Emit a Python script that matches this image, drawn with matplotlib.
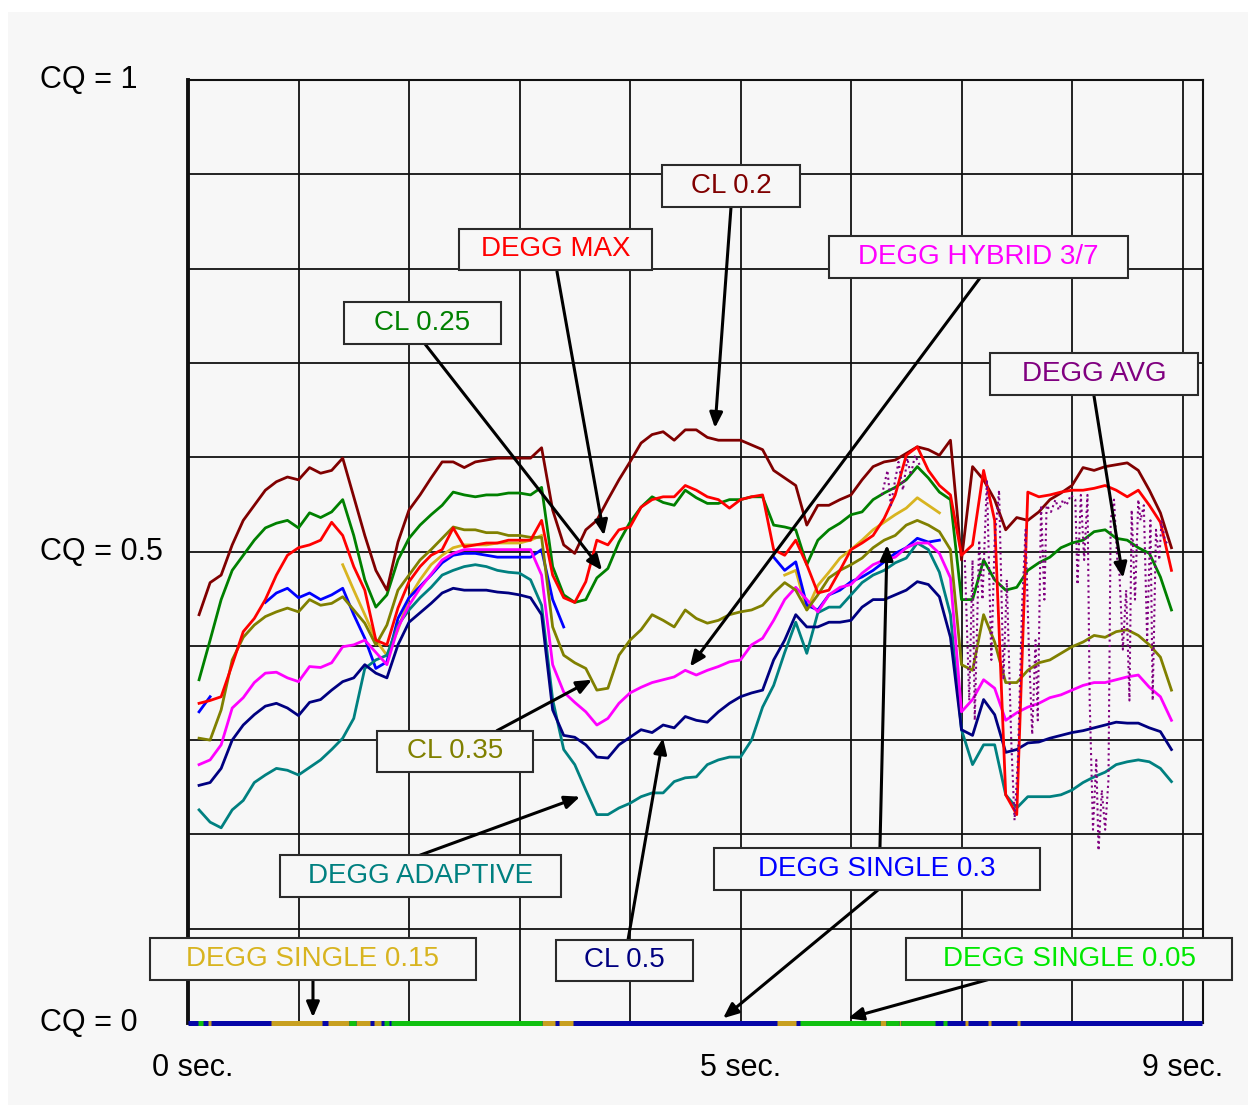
import numpy as np
import matplotlib
matplotlib.use("Agg")
import matplotlib.pyplot as plt
from matplotlib.patches import Rectangle
from matplotlib.transforms import blended_transform_factory

plt.rcParams['font.family'] = ['Liberation Sans', 'DejaVu Sans']

nan = np.nan

# common time base (seconds)
t = np.round(np.arange(1, 90) * 0.1, 2)

cl_02 = [0.433, 0.467, 0.475, 0.507, 0.533, 0.549, 0.565, 0.574, 0.579, 0.576,
         0.589, 0.583, 0.586, 0.599, 0.558, 0.517, 0.480, 0.459, 0.510, 0.544,
         0.560, 0.578, 0.595, 0.595, 0.589, 0.595, 0.597, 0.599, 0.599, 0.599,
         0.599, 0.610, 0.544, 0.507, 0.498, 0.523, 0.533, 0.555, 0.576, 0.595,
         0.615, 0.624, 0.627, 0.618, 0.629, 0.629, 0.621, 0.618, 0.618, 0.618,
         0.613, 0.608, 0.586, 0.578, 0.570, 0.528, 0.549, 0.549, 0.555, 0.560,
         0.576, 0.590, 0.595, 0.597, 0.604, 0.611, 0.608, 0.602, 0.618, 0.491,
         0.590, 0.576, 0.555, 0.523, 0.536, 0.533, 0.542, 0.555, 0.562, 0.570,
         0.589, 0.586, 0.590, 0.592, 0.594, 0.586, 0.565, 0.541, 0.504]

degg_max = [0.339, 0.342, 0.346, 0.380, 0.415, 0.429, 0.449, 0.475, 0.496, 0.504,
            0.507, 0.512, 0.531, 0.517, 0.484, 0.459, 0.406, 0.401, 0.440, 0.468,
            0.484, 0.496, 0.502, 0.525, 0.505, 0.507, 0.509, 0.509, 0.512, 0.512,
            0.512, 0.533, 0.475, 0.451, 0.446, 0.468, 0.512, 0.507, 0.523, 0.526,
            0.547, 0.555, 0.558, 0.558, 0.570, 0.565, 0.558, 0.555, 0.546, 0.555,
            0.558, 0.560, 0.502, 0.496, 0.512, 0.486, 0.456, 0.459, 0.480, 0.502,
            0.509, 0.517, 0.535, 0.560, 0.602, 0.611, 0.586, 0.570, 0.560, 0.496,
            0.507, 0.586, 0.533, 0.242, 0.221, 0.563, 0.558, 0.560, 0.563, 0.565,
            0.565, 0.567, 0.570, 0.565, 0.558, 0.565, 0.549, 0.531, 0.480]

cl_025 = [0.364, 0.406, 0.449, 0.480, 0.496, 0.512, 0.525, 0.530, 0.533, 0.525,
          0.541, 0.536, 0.542, 0.555, 0.517, 0.470, 0.441, 0.454, 0.491, 0.514,
          0.528, 0.539, 0.549, 0.563, 0.560, 0.558, 0.560, 0.560, 0.562, 0.562,
          0.560, 0.568, 0.484, 0.454, 0.446, 0.449, 0.472, 0.482, 0.510, 0.531,
          0.547, 0.558, 0.552, 0.549, 0.565, 0.557, 0.551, 0.551, 0.555, 0.555,
          0.558, 0.558, 0.528, 0.526, 0.523, 0.486, 0.512, 0.523, 0.530, 0.539,
          0.542, 0.555, 0.562, 0.568, 0.576, 0.590, 0.578, 0.563, 0.555, 0.449,
          0.449, 0.491, 0.470, 0.459, 0.462, 0.480, 0.488, 0.494, 0.504, 0.509,
          0.512, 0.521, 0.523, 0.514, 0.512, 0.504, 0.498, 0.473, 0.438]

degg_hybrid = [0.274, 0.279, 0.295, 0.334, 0.345, 0.361, 0.371, 0.372, 0.366, 0.362,
               0.378, 0.377, 0.382, 0.399, 0.401, 0.406, 0.393, 0.380, 0.419, 0.443,
               0.461, 0.476, 0.491, 0.498, 0.502, 0.502, 0.502, 0.502, 0.502, 0.502,
               0.502, 0.475, 0.380, 0.351, 0.340, 0.330, 0.316, 0.323, 0.339, 0.350,
               0.356, 0.361, 0.364, 0.367, 0.374, 0.369, 0.374, 0.378, 0.383, 0.385,
               0.401, 0.408, 0.427, 0.449, 0.462, 0.449, 0.436, 0.454, 0.462, 0.465,
               0.477, 0.486, 0.491, 0.494, 0.504, 0.509, 0.509, 0.498, 0.472, 0.330,
               0.343, 0.364, 0.355, 0.321, 0.329, 0.335, 0.339, 0.345, 0.348, 0.353,
               0.358, 0.361, 0.361, 0.364, 0.367, 0.369, 0.356, 0.346, 0.321]

cl_035 = [0.302, 0.300, 0.332, 0.385, 0.409, 0.422, 0.431, 0.436, 0.440, 0.436,
          0.449, 0.443, 0.445, 0.452, 0.438, 0.424, 0.401, 0.422, 0.459, 0.475,
          0.491, 0.502, 0.514, 0.526, 0.523, 0.523, 0.520, 0.520, 0.517, 0.517,
          0.515, 0.515, 0.420, 0.390, 0.382, 0.376, 0.353, 0.355, 0.390, 0.406,
          0.417, 0.433, 0.427, 0.420, 0.438, 0.429, 0.424, 0.427, 0.433, 0.436,
          0.438, 0.443, 0.456, 0.467, 0.459, 0.438, 0.454, 0.472, 0.480, 0.486,
          0.493, 0.504, 0.512, 0.517, 0.528, 0.533, 0.528, 0.521, 0.502, 0.380,
          0.374, 0.433, 0.404, 0.361, 0.361, 0.374, 0.382, 0.385, 0.392, 0.399,
          0.404, 0.411, 0.409, 0.415, 0.417, 0.411, 0.401, 0.388, 0.353]

degg_adaptive = [0.226, 0.213, 0.207, 0.226, 0.236, 0.255, 0.263, 0.270, 0.268, 0.263,
                 0.271, 0.279, 0.290, 0.302, 0.323, 0.376, 0.385, 0.390, 0.422, 0.438,
                 0.451, 0.462, 0.475, 0.480, 0.484, 0.486, 0.484, 0.480, 0.478, 0.477,
                 0.470, 0.443, 0.343, 0.290, 0.274, 0.247, 0.221, 0.221, 0.228, 0.233,
                 0.240, 0.244, 0.244, 0.256, 0.260, 0.261, 0.274, 0.279, 0.282, 0.282,
                 0.300, 0.335, 0.358, 0.393, 0.425, 0.392, 0.435, 0.441, 0.441, 0.454,
                 0.467, 0.475, 0.480, 0.488, 0.493, 0.509, 0.502, 0.478, 0.433, 0.311,
                 0.274, 0.295, 0.295, 0.242, 0.228, 0.240, 0.240, 0.240, 0.242, 0.247,
                 0.255, 0.261, 0.266, 0.274, 0.277, 0.279, 0.277, 0.270, 0.256]

cl_05 = [0.252, 0.255, 0.270, 0.300, 0.316, 0.327, 0.336, 0.339, 0.334, 0.326,
         0.340, 0.343, 0.353, 0.362, 0.366, 0.380, 0.371, 0.366, 0.401, 0.425,
         0.435, 0.445, 0.456, 0.461, 0.459, 0.459, 0.459, 0.457, 0.456, 0.454,
         0.451, 0.433, 0.332, 0.305, 0.303, 0.295, 0.282, 0.281, 0.295, 0.303,
         0.311, 0.308, 0.316, 0.313, 0.325, 0.321, 0.319, 0.330, 0.339, 0.346,
         0.350, 0.353, 0.385, 0.406, 0.433, 0.420, 0.420, 0.425, 0.425, 0.427,
         0.441, 0.449, 0.449, 0.454, 0.459, 0.468, 0.465, 0.452, 0.409, 0.311,
         0.305, 0.343, 0.327, 0.287, 0.290, 0.297, 0.298, 0.302, 0.305, 0.308,
         0.310, 0.313, 0.316, 0.319, 0.318, 0.318, 0.313, 0.309, 0.290]

degg_single_03 = [0.330, 0.346, nan, nan, nan, nan, 0.446, 0.456, 0.461, 0.451,
                  0.456, 0.449, 0.454, 0.461, 0.433, 0.408, 0.376, 0.383, 0.429, 0.451,
                  0.463, 0.475, 0.488, 0.496, 0.498, 0.498, 0.496, 0.494, 0.494, 0.494,
                  0.494, 0.502, 0.449, 0.420, nan, nan, nan, nan, nan, nan,
                  nan, nan, nan, nan, nan, nan, nan, nan, nan, nan,
                  nan, nan, 0.494, 0.480, 0.489, 0.443, 0.438, 0.454, 0.459, 0.468,
                  0.473, 0.480, 0.489, 0.498, 0.504, 0.514, 0.510, 0.512, nan, nan,
                  nan, nan, nan, nan, nan, nan, nan, nan, nan, nan,
                  nan, nan, nan, nan, nan, nan, nan, nan, nan]

degg_single_015 = [nan, nan, nan, nan, nan, nan, nan, nan, nan, nan,
                   nan, nan, nan, 0.486, 0.459, 0.433, 0.406, 0.390, 0.417, 0.451,
                   0.470, 0.486, 0.496, 0.504, 0.507, 0.507, 0.507, 0.509, 0.509, 0.509,
                   0.512, 0.517, nan, nan, nan, nan, nan, nan, nan, nan,
                   nan, nan, nan, nan, nan, nan, nan, nan, nan, nan,
                   nan, nan, nan, 0.475, 0.480, 0.438, 0.464, 0.478, 0.493, 0.502,
                   0.512, 0.523, 0.531, 0.539, 0.546, 0.557, 0.549, 0.541, nan, nan,
                   nan, nan, nan, nan, nan, nan, nan, nan, nan, nan,
                   nan, nan, nan, nan, nan, nan, nan, nan, nan]

# DEGG AVG is sampled on its own, denser time base
avg_t = [6.28, 6.33, 6.36, 6.40, 6.43, 6.47, 6.51, 6.54, 6.58, 6.62,
         nan,
         7.03, 7.07, 7.10, 7.12, 7.16, 7.19, 7.23, 7.27, 7.30, 7.34,
         7.38, 7.41, 7.45, 7.48, 7.51, 7.55, 7.58, 7.61, 7.64, 7.67,
         7.69, 7.72, 7.75, 7.77, 7.81, 7.85, 7.88, 7.92, 7.95, 7.99,
         8.03, 8.05, 8.08, 8.11, 8.14, 8.16, 8.19, 8.22, 8.24, 8.27,
         8.30, 8.33, 8.35, 8.38, 8.41, 8.43, 8.46, 8.49, 8.52, 8.54,
         8.57, 8.60, 8.62, 8.65, 8.68, 8.71, 8.73, 8.76, 8.79, 8.81,
         8.84, 8.87]
avg_cq = [0.560, 0.586, 0.549, 0.576, 0.595, 0.565, 0.599, 0.581, 0.602, 0.592,
          nan,
          0.491, 0.342, 0.491, 0.321, 0.512, 0.449, 0.576, 0.385, 0.512, 0.565,
          0.364, 0.470, 0.300, 0.215, 0.279, 0.449, 0.523, 0.396, 0.306, 0.406,
          0.321, 0.549, 0.449, 0.549, 0.542, 0.555, 0.544, 0.555, 0.549, 0.560,
          0.555, 0.465, 0.560, 0.491, 0.560, 0.342, 0.205, 0.279, 0.183, 0.247,
          0.205, 0.258, 0.533, 0.555, 0.491, 0.475, 0.396, 0.459, 0.342, 0.544,
          0.449, 0.555, 0.533, 0.549, 0.406, 0.533, 0.342, 0.523, 0.491, 0.533,
          0.512, 0.507]

# time spans (s) where the single-threshold methods sit at CQ = 0
single_03_zero = [(0.0, 9.18)]
single_015_zero = [(0.18, 0.21), (0.75, 1.21), (1.27, 1.46), (1.52, 1.65), (1.68, 1.75),
                   (3.20, 3.32), (3.36, 3.48), (5.33, 5.50), (6.26, 6.32), (6.43, 6.45),
                   (7.03, 7.06), (7.24, 7.27), (7.50, 7.53)]
single_005_zero = [(0.09, 0.14), (1.46, 1.52), (1.77, 1.82), (1.84, 3.20), (5.54, 6.26),
                   (6.32, 6.43), (6.45, 6.76), (6.83, 6.87)]

C_CL02 = '#800000'
C_MAX = '#ff0000'
C_CL025 = '#008000'
C_HYB = '#ff00ff'
C_AVG = '#800080'
C_CL035 = '#808000'
C_ADAPT = '#008080'
C_CL05 = '#000080'
C_S03 = '#0000ff'
C_S015 = '#d8b420'
C_S005 = '#00e800'

W, H = 1260, 1117
fig = plt.figure(figsize=(W / 100, H / 100), dpi=100, facecolor='white')
fig.patches.append(Rectangle((8 / W, 12 / H), 1240 / W, 1093 / H,
                             transform=fig.transFigure, facecolor='#f7f7f7',
                             edgecolor='none', zorder=-10))

ax = fig.add_axes([188 / W, 94 / H, 1015 / W, 943 / H])
ax.set_facecolor('#f7f7f7')
ax.set_xlim(0, 1015 / 110.5)
ax.set_ylim(0, 1)
ax.set_xticks(np.arange(1, 10))
ax.set_yticks(np.arange(1, 10) / 10)
ax.tick_params(length=0, labelbottom=False, labelleft=False)
ax.grid(True, color='#111111', lw=1.3)
ax.set_axisbelow(True)
for side, w in (('left', 2.8), ('top', 1.5), ('right', 1.5), ('bottom', 1.5)):
    ax.spines[side].set_linewidth(w)
    ax.spines[side].set_color('#111111')

lw = 2.0
series = [
    (degg_single_015, C_S015),
    (degg_single_03, C_S03),
    (degg_adaptive, C_ADAPT),
    (cl_05, C_CL05),
    (degg_hybrid, C_HYB),
    (cl_035, C_CL035),
    (cl_025, C_CL025),
    (cl_02, C_CL02),
    (degg_max, C_MAX),
]
for vals, col in series:
    ax.plot(t, vals, color=col, lw=lw, zorder=3)

ax.plot(avg_t, avg_cq, color=C_AVG, lw=1.5, linestyle=(0, (1, 1.6)), zorder=4)

# values at zero along the bottom edge
for spans, col in ((single_03_zero, '#0606a8'), (single_015_zero, '#c8a020'),
                   (single_005_zero, '#10c010')):
    s = [a for a, b in spans]
    e = [b for a, b in spans]
    ax.hlines([0] * len(spans), s, e, colors=col, lw=3.6, zorder=5, clip_on=False)

# y-axis captions
ytr = blended_transform_factory(fig.transFigure, ax.transData)
for v, txt in ((1.0, 'CQ = 1'), (0.5, 'CQ = 0.5'), (0.0, 'CQ = 0')):
    ax.text(40 / W, v, txt, transform=ytr, ha='left', va='center',
            fontsize=22, color='black')

# x-axis captions
xtr = blended_transform_factory(ax.transData, ax.transAxes)
for v, txt in ((0, '0 sec.'), (5, '5 sec.'), (9, '9 sec.')):
    ax.text(v + 0.045 if v == 0 else v, -0.0475, txt, transform=xtr, ha='center',
            va='center', fontsize=22, color='black', clip_on=False)

# callout boxes: (text, colour, t0, t1, cq_bottom, cq_top)
boxes = [
    ('CL 0.2', C_CL02, 4.290, 5.538, 0.865, 0.910),
    ('DEGG MAX', C_MAX, 2.452, 4.199, 0.799, 0.842),
    ('CL 0.25', C_CL025, 1.412, 2.833, 0.720, 0.765),
    ('DEGG HYBRID 3/7', C_HYB, 5.801, 8.507, 0.790, 0.835),
    ('DEGG AVG', C_AVG, 7.258, 9.140, 0.666, 0.710),
    ('CL 0.35', C_CL035, 1.710, 3.122, 0.266, 0.310),
    ('DEGG ADAPTIVE', C_ADAPT, 0.833, 3.376, 0.134, 0.178),
    ('DEGG SINGLE 0.3', C_S03, 4.760, 7.710, 0.141, 0.186),
    ('DEGG SINGLE 0.15', C_S015, -0.344, 2.606, 0.046, 0.090),
    ('CL 0.5', C_CL05, 3.330, 4.570, 0.045, 0.088),
    ('DEGG SINGLE 0.05', C_S005, 6.498, 9.448, 0.046, 0.090),
]
for txt, col, t0, t1, b, tp in boxes:
    ax.add_patch(Rectangle((t0, b), t1 - t0, tp - b, facecolor='#f7f7f7',
                           edgecolor='#2a2a2a', lw=1.5, zorder=8, clip_on=False))
    ax.text((t0 + t1) / 2, (b + tp) / 2, txt, color=col, fontsize=20,
            ha='center', va='center', zorder=9, clip_on=False)

# pointer arrows: (start, tip)
arrows = [
    ((4.914, 0.865), (4.769, 0.631)),
    ((3.339, 0.797), (3.765, 0.517)),
    ((2.145, 0.720), (3.747, 0.480)),
    ((7.167, 0.790), (4.543, 0.378)),
    ((8.199, 0.665), (8.462, 0.472)),
    ((2.796, 0.310), (3.656, 0.364)),
    ((2.100, 0.178), (3.548, 0.240)),
    ((3.982, 0.088), (4.299, 0.302)),
    ((6.262, 0.186), (6.326, 0.507)),
    ((6.244, 0.141), (4.842, 0.005)),
    ((7.240, 0.046), (5.973, 0.005)),
    ((1.131, 0.046), (1.131, 0.006)),
]
for start, tip in arrows:
    ax.annotate('', xy=tip, xytext=start, annotation_clip=False, zorder=7,
                arrowprops=dict(arrowstyle='-|>,head_length=0.7,head_width=0.3',
                                mutation_scale=13, color='black', lw=2.2,
                                shrinkA=0, shrinkB=0))

fig.savefig('out.png', dpi=100, facecolor='white')
